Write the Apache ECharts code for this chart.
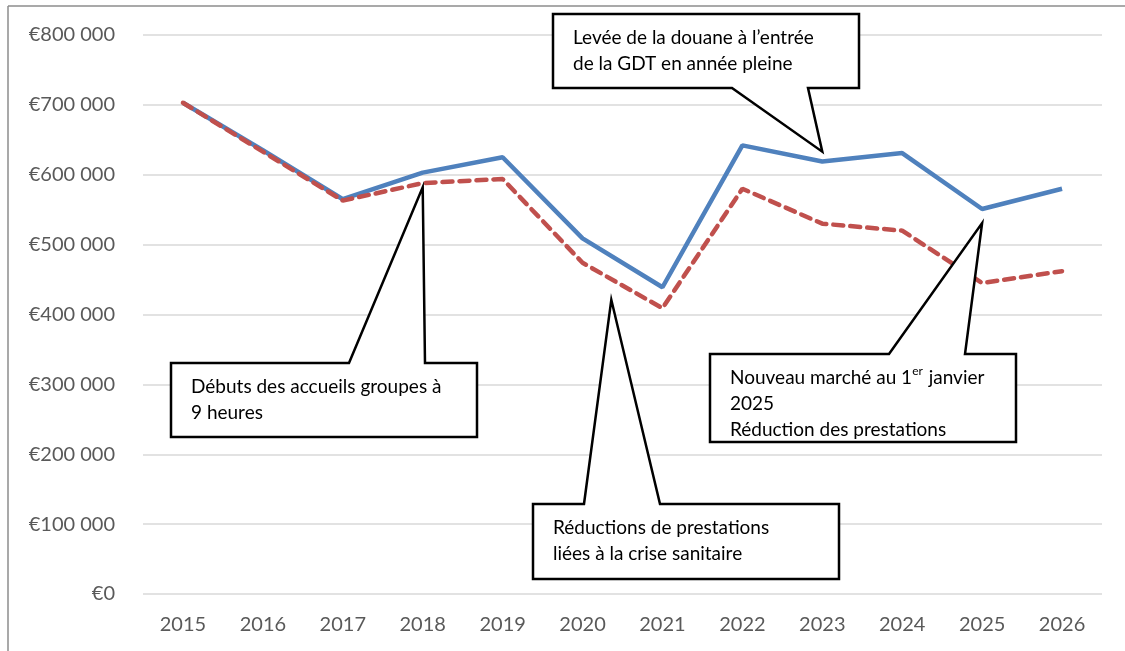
<!DOCTYPE html>
<html>
<head>
<meta charset="utf-8">
<script src="https://cdn.jsdelivr.net/npm/echarts@6/dist/echarts.min.js"></script>
<style>
  html, body { margin: 0; padding: 0; background: #fff; }
  #main { width: 1125px; height: 651px; }
</style>
</head>
<body>
<div id="main"></div>
<script>
// data
const categories = ['2015', '2016', '2017', '2018', '2019', '2020', '2021', '2022', '2023', '2024', '2025', '2026'];
const blueValues = [703000, 635000, 565000, 603000, 625000, 509000, 439000, 642000, 619000, 631000, 551000, 580000];
const redValues = [703000, 633000, 563000, 588000, 594000, 474000, 409000, 580000, 530000, 520000, 445000, 462000];

// callout texts and the point (category index, value) each one points at
const calloutTexts = [
  'Levée de la douane à l’entrée\nde la GDT en année pleine',
  'Débuts des accueils groupes à\n9 heures',
  'Réductions de prestations\nliées à la crise sanitaire',
  'Nouveau marché au 1{sup|er} janvier\n2025\nRéduction des prestations'
];
const calloutAnchors = [[8, 633000], [3, 582000], [5.36, 421000], [10, 531000]];

// layout of the boxes (pixels): left, top, right, bottom, wedge edge, wedge base
const calloutBoxes = [
  { box: [553, 14, 859, 88], edge: 'bottom', base: [732, 808] },
  { box: [171, 363, 477, 437], edge: 'top', base: [349, 425] },
  { box: [533, 504, 839, 579], edge: 'top', base: [584, 660] },
  { box: [710, 354, 1016, 442], edge: 'top', base: [889, 965] }
];

const FONT = 'Lato, "Open Sans", sans-serif';
const chart = echarts.init(document.getElementById('main'));

const euro = v => v === 0 ? '€0' : '€' + String(v).replace(/\B(?=(\d{3})+(?!\d))/g, ' ');

chart.setOption({
  animation: false,
  grid: { left: 143, right: 23, top: 35, bottom: 57 },
  xAxis: {
    type: 'category',
    data: categories,
    boundaryGap: true,
    axisLine: { show: false },
    axisTick: { show: false },
    axisLabel: { color: '#595959', fontFamily: FONT, fontSize: 20, margin: 21 }
  },
  yAxis: {
    type: 'value',
    min: 0,
    max: 800000,
    interval: 100000,
    axisLabel: { formatter: euro, color: '#595959', fontFamily: FONT, fontSize: 20, margin: 28 },
    splitLine: { lineStyle: { color: '#D9D9D9', width: 1.5 } }
  },
  series: [
    {
      type: 'line',
      data: blueValues,
      symbol: 'none',
      z: 2,
      lineStyle: { color: '#4F81BD', width: 4.5 }
    },
    {
      type: 'line',
      data: redValues,
      symbol: 'none',
      z: 3,
      lineStyle: { color: '#C0504D', width: 4.5, type: [10, 7], cap: 'round' }
    }
  ]
});

// pixel of a (possibly fractional) category index
function anchorPixel(idx, val) {
  const i0 = Math.floor(idx), i1 = Math.ceil(idx);
  const p0 = chart.convertToPixel({ gridIndex: 0 }, [i0, val]);
  const p1 = chart.convertToPixel({ gridIndex: 0 }, [i1, val]);
  const t = idx - i0;
  return [p0[0] + (p1[0] - p0[0]) * t, p0[1]];
}

const graphics = [
  { type: 'line', shape: { x1: 8, y1: 6, x2: 1125, y2: 6 }, style: { stroke: '#8c8c8c', lineWidth: 1.5 }, z: 10 },
  { type: 'line', shape: { x1: 8, y1: 6, x2: 8, y2: 651 }, style: { stroke: '#8c8c8c', lineWidth: 1.5 }, z: 10 }
];

calloutBoxes.forEach((c, i) => {
  const [L, T, R, B] = c.box;
  const tip = anchorPixel(calloutAnchors[i][0], calloutAnchors[i][1]);
  let pts;
  if (c.edge === 'top') {
    pts = [[L, T], [c.base[0], T], tip, [c.base[1], T], [R, T], [R, B], [L, B]];
  } else {
    pts = [[L, T], [R, T], [R, B], [c.base[1], B], tip, [c.base[0], B], [L, B]];
  }
  graphics.push({
    type: 'polygon',
    shape: { points: pts },
    style: { fill: '#fff', stroke: '#000', lineWidth: 2.5, lineJoin: 'miter' },
    z: 20
  });
  graphics.push({
    type: 'text',
    x: L + 20,
    y: T + 11,
    z: 21,
    style: {
      text: calloutTexts[i],
      font: '19px ' + FONT,
      fill: '#000',
      lineHeight: 26,
      verticalAlign: 'top',
      rich: {
        sup: { fontSize: 12, fontFamily: FONT, fill: '#000', verticalAlign: 'top', lineHeight: 26, padding: [0, 1, 10, 0] }
      }
    }
  });
});

chart.setOption({ graphic: graphics });
</script>
</body>
</html>
